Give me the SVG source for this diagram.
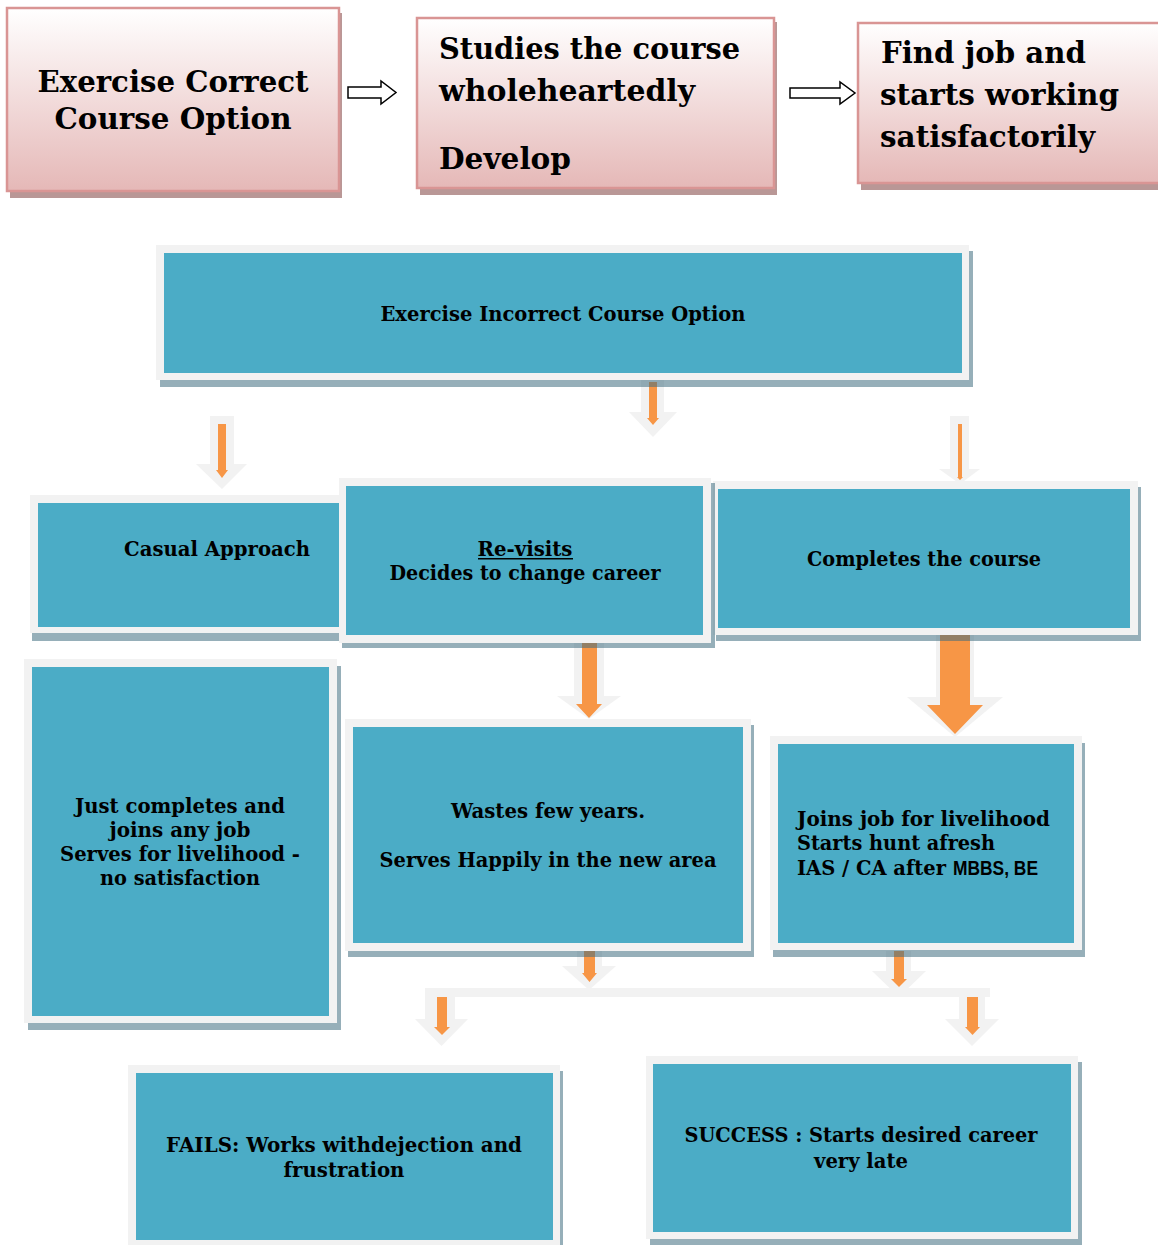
<svg xmlns="http://www.w3.org/2000/svg" width="1158" height="1245" viewBox="0 0 1158 1245">
<defs>
<linearGradient id="pink" x1="0" y1="0" x2="0" y2="1">
<stop offset="0" stop-color="#ffffff"/>
<stop offset="1" stop-color="#e5b8b7"/>
</linearGradient>
<style>
.pshadow{fill:#b99796}
.pbox{fill:url(#pink);stroke:#d99594;stroke-width:2.5}
.ptext{font-family:"DejaVu Serif","Liberation Serif",serif;font-weight:bold;font-size:30px;fill:#000}
.bshadow{fill:#3f6d80;fill-opacity:.55}
.frame{fill:#f2f2f2}
.inner{fill:#4bacc6}
.btext{font-family:"DejaVu Serif","Liberation Serif",serif;font-weight:bold;font-size:20px;fill:#000}
.stext{font-family:"Liberation Sans",Arial,sans-serif;font-weight:bold;font-size:20px;fill:#000}
.mid{text-anchor:middle}
.halo{fill:#f2f2f2}
.orange{fill:#f79646}
.hollow{fill:#ffffff;stroke:#000000;stroke-width:1.5;stroke-linejoin:miter}
</style>
</defs>
<rect width="1158" height="1245" fill="#ffffff"/>

<g id="connectors">
<polygon class="hollow" points="348,87 381,87 381,81 396,92.5 381,104 381,98 348,98"/>
<polygon class="hollow" points="790,88 840,88 840,82 855,93 840,104 840,98 790,98"/>
<polygon class="halo" points="641,373 664,373 664,412 677,412 653,437 629,412 641,412"/>
<polygon class="orange" points="649,382 657,382 657,418 659,418 653,425 647,418 649,418"/>
<polygon class="halo" points="210,416 234,416 234,464 247,464 222,489 196,464 210,464"/>
<polygon class="orange" points="218,424 226,424 226,470 228,470 222,478 216,470 218,470"/>
<polygon class="halo" points="950,416 969,416 969,469 980,469 960,484 939,469 950,469"/>
<polygon class="orange" points="958,424 962,424 962,477 963,477 960,480 957,477 958,477"/>
<polygon class="halo" points="574,643 604,643 604,696 621,696 589,719 557,696 574,696"/>
<polygon class="orange" points="582,643 597,643 597,704 602,704 589,718 576,704 582,704"/>
<polygon class="halo" points="936,635 974,635 974,697 1003,697 955,737 907,697 936,697"/>
<polygon class="orange" points="940,635 970,635 970,705 983,705 955,734 927,705 940,705"/>
<rect class="halo" x="425" y="988" width="565" height="9"/>
<polygon class="halo" points="577,951 602,951 602,966 616,966 589,990 562,966 577,966"/>
<polygon class="orange" points="584,951 595,951 595,973 597,973 589.5,982 582,973 584,973"/>
<polygon class="halo" points="886,951 911,951 911,971 926,971 899,997 872,971 886,971"/>
<polygon class="orange" points="894,951 904,951 904,979 907,979 899,987 891,979 894,979"/>
<polygon class="halo" points="425,988 455,988 455,1019 468,1019 441.5,1046 415,1019 425,1019"/>
<polygon class="orange" points="437,997 447,997 447,1027 450,1027 442,1035 434,1027 437,1027"/>
<polygon class="halo" points="959,988 985,988 985,1019 999,1019 972,1046 945,1019 959,1019"/>
<polygon class="orange" points="967,997 978,997 978,1027 980,1027 972.5,1035 965,1027 967,1027"/>
</g>

<g id="correct-option">
<rect class="pshadow" x="10" y="13" width="332" height="185"/>
<rect class="pbox" x="7" y="8" width="332" height="183"/>
<text class="ptext mid" x="173" y="92" textLength="271" lengthAdjust="spacingAndGlyphs">Exercise Correct</text>
<text class="ptext mid" x="173" y="129" textLength="237" lengthAdjust="spacingAndGlyphs">Course Option</text>
</g>

<g id="studies">
<rect class="pshadow" x="420" y="22" width="357" height="173"/>
<rect class="pbox" x="417" y="18" width="357" height="170"/>
<text class="ptext" x="439" y="59" textLength="301" lengthAdjust="spacingAndGlyphs">Studies the course</text>
<text class="ptext" x="439" y="101" textLength="256" lengthAdjust="spacingAndGlyphs">wholeheartedly</text>
<text class="ptext" x="439" y="169" textLength="132" lengthAdjust="spacingAndGlyphs">Develop</text>
</g>

<g id="find-job">
<rect class="pshadow" x="861" y="28" width="302" height="162"/>
<rect class="pbox" x="858" y="23" width="304" height="160"/>
<text class="ptext" x="881" y="63" textLength="205" lengthAdjust="spacingAndGlyphs">Find job and</text>
<text class="ptext" x="880" y="105" textLength="239" lengthAdjust="spacingAndGlyphs">starts working</text>
<text class="ptext" x="880" y="147" textLength="215" lengthAdjust="spacingAndGlyphs">satisfactorily</text>
</g>

<g id="incorrect-option">
<rect class="bshadow" x="160" y="251" width="813" height="136"/>
<rect class="frame" x="156" y="245" width="813" height="135"/>
<rect class="inner" x="164" y="253" width="798" height="120"/>
<text class="btext mid" x="563" y="321" textLength="365" lengthAdjust="spacingAndGlyphs">Exercise Incorrect Course Option</text>
</g>

<g id="completes">
<rect class="bshadow" x="716" y="487" width="425" height="154"/>
<rect class="frame" x="713" y="481" width="425" height="154"/>
<rect class="inner" x="718" y="489" width="412" height="139"/>
<text class="btext mid" x="924" y="566" textLength="234" lengthAdjust="spacingAndGlyphs">Completes the course</text>
</g>

<g id="casual">
<rect class="bshadow" x="32" y="500" width="320" height="141"/>
<rect class="frame" x="30" y="495" width="320" height="138"/>
<rect class="inner" x="38" y="503" width="310" height="124"/>
<text class="btext mid" x="217" y="556" textLength="186" lengthAdjust="spacingAndGlyphs">Casual Approach</text>
</g>

<g id="revisits">
<rect class="bshadow" x="342" y="483" width="373" height="165"/>
<rect class="frame" x="339" y="478" width="372" height="165"/>
<rect class="inner" x="346" y="486" width="357" height="149"/>
<text class="btext mid" x="525" y="556" textLength="95" lengthAdjust="spacingAndGlyphs">Re-visits</text>
<rect x="478" y="558" width="95" height="1.5" fill="#000"/>
<text class="btext mid" x="525" y="580" textLength="271" lengthAdjust="spacingAndGlyphs">Decides to change career</text>
</g>

<g id="just-completes">
<rect class="bshadow" x="28" y="666" width="313" height="364"/>
<rect class="frame" x="24" y="659" width="313" height="364"/>
<rect class="inner" x="32" y="667" width="297" height="349"/>
<text class="btext mid" x="180" y="813" textLength="210" lengthAdjust="spacingAndGlyphs">Just completes and</text>
<text class="btext mid" x="180" y="837" textLength="141" lengthAdjust="spacingAndGlyphs">joins any job</text>
<text class="btext mid" x="180" y="861" textLength="240" lengthAdjust="spacingAndGlyphs">Serves for livelihood -</text>
<text class="btext mid" x="180" y="885" textLength="160" lengthAdjust="spacingAndGlyphs">no satisfaction</text>
</g>

<g id="wastes">
<rect class="bshadow" x="348" y="725" width="406" height="232"/>
<rect class="frame" x="345" y="719" width="406" height="232"/>
<rect class="inner" x="353" y="727" width="390" height="216"/>
<text class="btext mid" x="548" y="818" textLength="194" lengthAdjust="spacingAndGlyphs">Wastes few years.</text>
<text class="btext mid" x="548" y="867" textLength="337" lengthAdjust="spacingAndGlyphs">Serves Happily in the new area</text>
</g>

<g id="joins-job">
<rect class="bshadow" x="773" y="743" width="312" height="214"/>
<rect class="frame" x="770" y="736" width="312" height="214"/>
<rect class="inner" x="778" y="744" width="296" height="199"/>
<text class="btext" x="797" y="826" textLength="253" lengthAdjust="spacingAndGlyphs">Joins job for livelihood</text>
<text class="btext" x="797" y="850" textLength="198" lengthAdjust="spacingAndGlyphs">Starts hunt afresh</text>
<text class="btext" x="797" y="875" textLength="149" lengthAdjust="spacingAndGlyphs">IAS / CA after</text>
<text class="stext" x="953" y="875" textLength="85" lengthAdjust="spacingAndGlyphs">MBBS, BE</text>
</g>

<g id="fails">
<rect class="bshadow" x="131" y="1071" width="432" height="185"/>
<rect class="frame" x="128" y="1065" width="432" height="185"/>
<rect class="inner" x="136" y="1073" width="417" height="167"/>
<text class="btext mid" x="344" y="1152" textLength="356" lengthAdjust="spacingAndGlyphs">FAILS: Works withdejection and</text>
<text class="btext mid" x="344" y="1177" textLength="121" lengthAdjust="spacingAndGlyphs">frustration</text>
</g>

<g id="success">
<rect class="bshadow" x="650" y="1062" width="432" height="183"/>
<rect class="frame" x="646" y="1056" width="432" height="183"/>
<rect class="inner" x="653" y="1064" width="418" height="168"/>
<text class="btext mid" x="861" y="1142" textLength="353" lengthAdjust="spacingAndGlyphs">SUCCESS : Starts desired career</text>
<text class="btext mid" x="861" y="1168" textLength="94" lengthAdjust="spacingAndGlyphs">very late</text>
</g>
</svg>
